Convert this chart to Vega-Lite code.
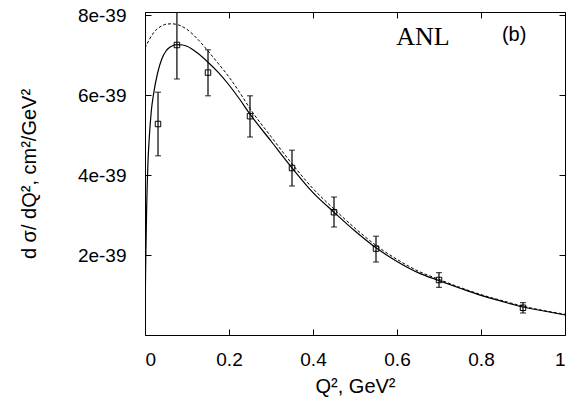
{
  "$schema": "https://vega.github.io/schema/vega-lite/v6.json",
  "width": 420,
  "height": 323,
  "autosize": {"type": "none"},
  "padding": {"left": 145, "top": 12, "right": 6, "bottom": 67},
  "background": "white",
  "config": {
    "view": {"stroke": "black", "strokeWidth": 1},
    "axis": {
      "grid": false,
      "domain": false,
      "labelFont": "Liberation Sans",
      "labelFontSize": 19,
      "labelColor": "black",
      "tickColor": "black",
      "tickSize": -6,
      "tickWidth": 1,
      "titleFont": "Liberation Sans",
      "titleFontSize": 19,
      "titleFontWeight": "normal",
      "titleColor": "black"
    }
  },
  "datasets": {
    "curves": [
      {"q2": 0, "v": 0, "model": "solid"},
      {"q2": 0.001, "v": 1.2e-39, "model": "solid"},
      {"q2": 0.002, "v": 2.0e-39, "model": "solid"},
      {"q2": 0.004, "v": 3.2e-39, "model": "solid"},
      {"q2": 0.007, "v": 4.3e-39, "model": "solid"},
      {"q2": 0.01, "v": 4.9e-39, "model": "solid"},
      {"q2": 0.015, "v": 5.6e-39, "model": "solid"},
      {"q2": 0.02, "v": 6.0e-39, "model": "solid"},
      {"q2": 0.03, "v": 6.55e-39, "model": "solid"},
      {"q2": 0.04, "v": 6.9e-39, "model": "solid"},
      {"q2": 0.05, "v": 7.1e-39, "model": "solid"},
      {"q2": 0.06, "v": 7.2e-39, "model": "solid"},
      {"q2": 0.075, "v": 7.26e-39, "model": "solid"},
      {"q2": 0.09, "v": 7.25e-39, "model": "solid"},
      {"q2": 0.1, "v": 7.22e-39, "model": "solid"},
      {"q2": 0.125, "v": 7.05e-39, "model": "solid"},
      {"q2": 0.15, "v": 6.82e-39, "model": "solid"},
      {"q2": 0.175, "v": 6.56e-39, "model": "solid"},
      {"q2": 0.2, "v": 6.25e-39, "model": "solid"},
      {"q2": 0.225, "v": 5.9e-39, "model": "solid"},
      {"q2": 0.25, "v": 5.52e-39, "model": "solid"},
      {"q2": 0.3, "v": 4.85e-39, "model": "solid"},
      {"q2": 0.35, "v": 4.18e-39, "model": "solid"},
      {"q2": 0.4, "v": 3.56e-39, "model": "solid"},
      {"q2": 0.45, "v": 3.07e-39, "model": "solid"},
      {"q2": 0.5, "v": 2.6e-39, "model": "solid"},
      {"q2": 0.55, "v": 2.18e-39, "model": "solid"},
      {"q2": 0.6, "v": 1.84e-39, "model": "solid"},
      {"q2": 0.65, "v": 1.56e-39, "model": "solid"},
      {"q2": 0.7, "v": 1.36e-39, "model": "solid"},
      {"q2": 0.75, "v": 1.17e-39, "model": "solid"},
      {"q2": 0.8, "v": 0.99e-39, "model": "solid"},
      {"q2": 0.85, "v": 0.84e-39, "model": "solid"},
      {"q2": 0.9, "v": 0.7e-39, "model": "solid"},
      {"q2": 0.95, "v": 0.6e-39, "model": "solid"},
      {"q2": 1.0, "v": 0.5e-39, "model": "solid"},
      {"q2": 0, "v": 7.17e-39, "model": "dashed"},
      {"q2": 0.01, "v": 7.38e-39, "model": "dashed"},
      {"q2": 0.02, "v": 7.55e-39, "model": "dashed"},
      {"q2": 0.03, "v": 7.66e-39, "model": "dashed"},
      {"q2": 0.04, "v": 7.73e-39, "model": "dashed"},
      {"q2": 0.05, "v": 7.77e-39, "model": "dashed"},
      {"q2": 0.065, "v": 7.78e-39, "model": "dashed"},
      {"q2": 0.08, "v": 7.75e-39, "model": "dashed"},
      {"q2": 0.1, "v": 7.64e-39, "model": "dashed"},
      {"q2": 0.125, "v": 7.4e-39, "model": "dashed"},
      {"q2": 0.15, "v": 7.1e-39, "model": "dashed"},
      {"q2": 0.175, "v": 6.78e-39, "model": "dashed"},
      {"q2": 0.2, "v": 6.45e-39, "model": "dashed"},
      {"q2": 0.225, "v": 6.07e-39, "model": "dashed"},
      {"q2": 0.25, "v": 5.66e-39, "model": "dashed"},
      {"q2": 0.3, "v": 4.96e-39, "model": "dashed"},
      {"q2": 0.35, "v": 4.28e-39, "model": "dashed"},
      {"q2": 0.4, "v": 3.66e-39, "model": "dashed"},
      {"q2": 0.45, "v": 3.15e-39, "model": "dashed"},
      {"q2": 0.5, "v": 2.67e-39, "model": "dashed"},
      {"q2": 0.55, "v": 2.24e-39, "model": "dashed"},
      {"q2": 0.6, "v": 1.89e-39, "model": "dashed"},
      {"q2": 0.65, "v": 1.6e-39, "model": "dashed"},
      {"q2": 0.7, "v": 1.39e-39, "model": "dashed"},
      {"q2": 0.75, "v": 1.19e-39, "model": "dashed"},
      {"q2": 0.8, "v": 1.01e-39, "model": "dashed"},
      {"q2": 0.85, "v": 0.86e-39, "model": "dashed"},
      {"q2": 0.9, "v": 0.72e-39, "model": "dashed"},
      {"q2": 0.95, "v": 0.61e-39, "model": "dashed"},
      {"q2": 1.0, "v": 0.52e-39, "model": "dashed"}
    ],
    "points": [
      {"q2": 0.031, "v": 5.275e-39, "lo": 4.48e-39, "hi": 6.07e-39},
      {"q2": 0.076, "v": 7.25e-39, "lo": 6.4e-39, "hi": 8.1e-39},
      {"q2": 0.15, "v": 6.56e-39, "lo": 5.98e-39, "hi": 7.13e-39},
      {"q2": 0.25, "v": 5.47e-39, "lo": 4.95e-39, "hi": 5.98e-39},
      {"q2": 0.35, "v": 4.175e-39, "lo": 3.725e-39, "hi": 4.62e-39},
      {"q2": 0.45, "v": 3.07e-39, "lo": 2.7e-39, "hi": 3.45e-39},
      {"q2": 0.55, "v": 2.16e-39, "lo": 1.825e-39, "hi": 2.47e-39},
      {"q2": 0.7, "v": 1.375e-39, "lo": 1.19e-39, "hi": 1.56e-39},
      {"q2": 0.9, "v": 0.68e-39, "lo": 0.55e-39, "hi": 0.81e-39}
    ],
    "labels": [
      {"q2": 0.662, "v": 7.45e-39, "text": "ANL", "font": "serif"},
      {"q2": 0.879, "v": 7.5e-39, "text": "(b)", "font": "sans"}
    ]
  },
  "resolve": {"axis": {"x": "independent", "y": "independent"}},
  "layer": [
    {
      "data": {"name": "curves"},
      "mark": {"type": "line", "color": "black", "strokeWidth": 1.2, "interpolate": "monotone", "clip": true},
      "transform": [{"filter": "datum.model === 'solid'"}],
      "encoding": {
        "x": {"field": "q2", "type": "quantitative",
              "scale": {"domain": [0, 1], "nice": false, "zero": false},
              "axis": {"orient": "bottom", "values": [0, 0.2, 0.4, 0.6, 0.8, 1], "format": ".1~f",
                       "labelPadding": 21, "title": "Q², GeV²", "titleFontSize": 20, "titlePadding": 7}},
        "y": {"field": "v", "type": "quantitative",
              "scale": {"domain": [0, 8.075e-39], "nice": false, "zero": false},
              "axis": {"orient": "left", "values": [2e-39, 4e-39, 6e-39, 8e-39],
                       "labelExpr": "round(datum.value*1e39) + 'e-39'",
                       "labelPadding": 25, "title": "d σ/ dQ², cm²/GeV²", "titleFontSize": 20, "titlePadding": 38}}
      }
    },
    {
      "data": {"name": "curves"},
      "mark": {"type": "line", "color": "black", "strokeWidth": 1, "strokeDash": [3, 2], "interpolate": "monotone", "clip": true},
      "transform": [{"filter": "datum.model === 'dashed'"}],
      "encoding": {
        "x": {"field": "q2", "type": "quantitative",
              "axis": {"orient": "top", "values": [0, 0.2, 0.4, 0.6, 0.8, 1], "labels": false, "title": null}},
        "y": {"field": "v", "type": "quantitative",
              "axis": {"orient": "right", "values": [2e-39, 4e-39, 6e-39, 8e-39], "labels": false, "title": null}}
      }
    },
    {
      "data": {"name": "points"},
      "mark": {"type": "rule", "color": "black", "strokeWidth": 1.2, "clip": true},
      "encoding": {
        "x": {"field": "q2", "type": "quantitative", "axis": null},
        "y": {"field": "lo", "type": "quantitative", "axis": null},
        "y2": {"field": "hi"}
      }
    },
    {
      "data": {"name": "points"},
      "mark": {"type": "tick", "orient": "horizontal", "color": "black", "size": 6, "thickness": 1.2, "clip": true},
      "encoding": {
        "x": {"field": "q2", "type": "quantitative", "axis": null},
        "y": {"field": "lo", "type": "quantitative", "axis": null}
      }
    },
    {
      "data": {"name": "points"},
      "mark": {"type": "tick", "orient": "horizontal", "color": "black", "size": 6, "thickness": 1.2, "clip": true},
      "encoding": {
        "x": {"field": "q2", "type": "quantitative", "axis": null},
        "y": {"field": "hi", "type": "quantitative", "axis": null}
      }
    },
    {
      "data": {"name": "points"},
      "mark": {"type": "point", "shape": "square", "filled": false, "color": "black", "size": 30, "strokeWidth": 1, "opacity": 1},
      "encoding": {
        "x": {"field": "q2", "type": "quantitative", "axis": null},
        "y": {"field": "v", "type": "quantitative", "axis": null}
      }
    },
    {
      "data": {"name": "labels"},
      "transform": [{"filter": "datum.font === 'serif'"}],
      "mark": {"type": "text", "font": "Liberation Serif", "fontSize": 26, "color": "black", "align": "center", "baseline": "middle"},
      "encoding": {
        "x": {"field": "q2", "type": "quantitative", "axis": null},
        "y": {"field": "v", "type": "quantitative", "axis": null},
        "text": {"field": "text"}
      }
    },
    {
      "data": {"name": "labels"},
      "transform": [{"filter": "datum.font === 'sans'"}],
      "mark": {"type": "text", "font": "Liberation Sans", "fontSize": 20, "color": "black", "align": "center", "baseline": "middle"},
      "encoding": {
        "x": {"field": "q2", "type": "quantitative", "axis": null},
        "y": {"field": "v", "type": "quantitative", "axis": null},
        "text": {"field": "text"}
      }
    }
  ]
}
